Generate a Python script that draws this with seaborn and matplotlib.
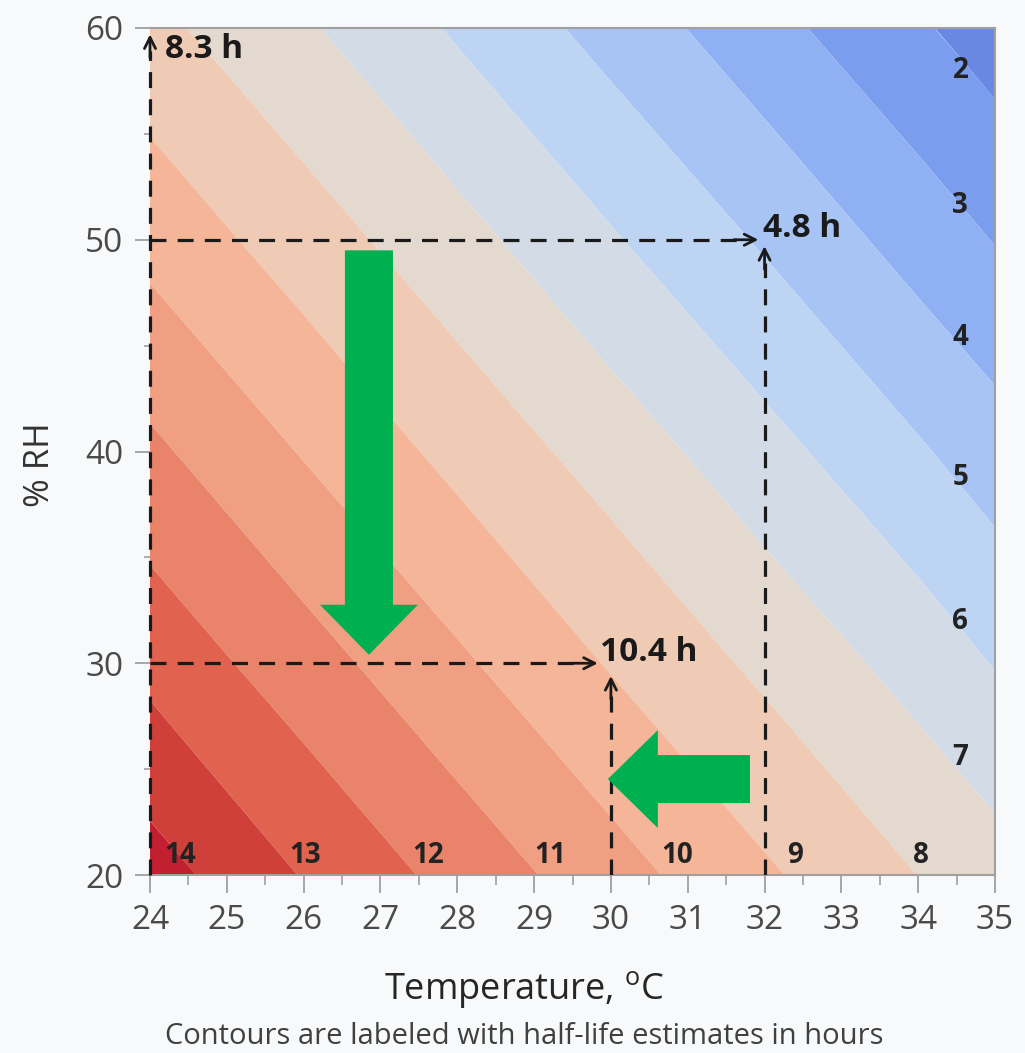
import numpy as np
import matplotlib
matplotlib.use('Agg')
import matplotlib.pyplot as plt
from matplotlib.colors import ListedColormap, BoundaryNorm
import seaborn as sns

sns.set_theme(style="white")
plt.rcParams['font.family'] = ['Open Sans', 'DejaVu Sans']

# Half-life estimates (hours) on a coarse grid
temps = [24, 26, 28, 30, 32, 34, 35]
rh_levels = [20, 30, 40, 50, 60]
half_life = [
    [14.45, 12.94, 11.66, 10.41, 9.15, 7.99, 7.43],   # RH 20
    [12.69, 11.43, 10.17, 8.92, 7.78, 6.60, 5.95],    # RH 30
    [11.20, 9.93, 8.70, 7.57, 6.35, 5.12, 4.47],      # RH 40
    [9.69, 8.49, 7.35, 6.10, 4.88, 3.58, 2.96],       # RH 50
    [8.27, 7.14, 5.87, 4.63, 3.34, 2.13, 1.52],       # RH 60
]
contour_levels = list(range(1, 16))
band_colors = ['#6888e4', '#7a9ded', '#90b0f4', '#a8c4f5', '#bdd4f2', '#d3dbe7',
               '#e4d9ce', '#efcab5', '#f4b598', '#f09f82', '#e9836a', '#e0624f',
               '#d0403a', '#c21f30']

# contour labels
bottom_labels = ['14', '13', '12', '11', '10', '9', '8']
bottom_label_t = [24.39, 26.02, 27.62, 29.21, 30.86, 32.40, 34.03]
right_labels = ['2', '3', '4', '5', '6', '7']
right_label_rh = [58.0, 51.6, 45.4, 38.75, 31.95, 25.55]

# worked examples: (temperature, RH, half-life text)
examples = [(24, 60, '8.3 h'), (32, 50, '4.8 h'), (30, 30, '10.4 h')]

fig = plt.figure(figsize=(10.25, 10.53), dpi=100)
fig.patch.set_facecolor('#f8f9fa')
ax = fig.add_axes([150 / 1025, 1 - 875 / 1053, 845 / 1025, 847 / 1053])

cmap = ListedColormap(band_colors)
norm = BoundaryNorm(contour_levels, cmap.N)
T, R = np.meshgrid(temps, rh_levels)
ax.contourf(T, R, np.array(half_life), levels=contour_levels, cmap=cmap, norm=norm,
            antialiased=True)

ax.set_xlim(24, 35)
ax.set_ylim(20, 60)
ax.set_xticks(range(24, 36))
ax.set_xticks(np.arange(24.5, 35, 1), minor=True)
ax.set_yticks(range(20, 61, 10))
ax.set_yticks(range(25, 60, 10), minor=True)

grey = '#a0a0a0'
for side in ['top', 'right', 'bottom']:
    ax.spines[side].set_color(grey)
    ax.spines[side].set_linewidth(1.5)
ax.spines['left'].set_visible(False)
ax.tick_params(axis='x', which='major', length=13, width=1.3, color=grey, direction='out',
               pad=8, labelsize=24, labelcolor='#4a4a4a', bottom=True)
ax.tick_params(axis='x', which='minor', length=7, width=1.2, color=grey, direction='out', bottom=True)
ax.tick_params(axis='y', which='major', length=11, width=1.3, color=grey, direction='out',
               pad=8, labelsize=24, labelcolor='#4a4a4a', left=True)
ax.tick_params(axis='y', which='minor', length=4, width=1.2, color=grey, direction='out', left=True)

# contour labels
lab_kw = dict(fontsize=20, fontweight='bold', color='#222222', ha='center', va='center')
for txt, t in zip(bottom_labels, bottom_label_t):
    ax.text(t, 20.9, txt, **lab_kw)
for txt, r in zip(right_labels, right_label_rh):
    ax.text(34.55, r, txt, **lab_kw)

# dashed reading guides
dash_kw = dict(color='#1a1a1a', lw=2.3, ls=(0, (5, 3.5)), zorder=4)
head_kw = dict(arrowstyle='->', color='#1a1a1a', lw=2.0, mutation_scale=20,
               shrinkA=0, shrinkB=0)
ex_kw = dict(fontsize=24, fontweight='bold', color='#1a1a1a', va='center', ha='left', zorder=5)

# 8.3 h : vertical guide at 24 C
ax.plot([24, 24], [20, 58.9], clip_on=False, **dash_kw)
ax.annotate('', xy=(24, 59.7), xytext=(24, 58.6), arrowprops=head_kw, annotation_clip=False)
ax.text(24.2, 59.0, examples[0][2], **ex_kw)

# 4.8 h : 50 %RH and 32 C
ax.plot([24, 31.7], [50, 50], **dash_kw)
ax.annotate('', xy=(31.92, 50), xytext=(31.6, 50), arrowprops=head_kw)
ax.plot([32, 32], [20, 48.9], **dash_kw)
ax.annotate('', xy=(32, 49.7), xytext=(32, 48.6), arrowprops=head_kw)
ax.text(31.98, 50.55, examples[1][2], **ex_kw)

# 10.4 h : 30 %RH and 30 C
ax.plot([24, 29.6], [30, 30], **dash_kw)
ax.annotate('', xy=(29.83, 30), xytext=(29.5, 30), arrowprops=head_kw)
ax.plot([30, 30], [20, 28.6], **dash_kw)
ax.annotate('', xy=(30, 29.4), xytext=(30, 28.3), arrowprops=head_kw)
ax.text(29.86, 30.5, examples[2][2], **ex_kw)

# green block arrows
green = '#00b050'
ms = 10
block = f"simple,head_length={36 / ms},head_width={70.5 / ms},tail_width={34.6 / ms}"
ax.annotate('', xy=(26.85, 30.4), xytext=(26.85, 49.5),
            arrowprops=dict(arrowstyle=block, mutation_scale=ms, fc=green, ec='none',
                            shrinkA=0, shrinkB=0), zorder=6)
ax.annotate('', xy=(29.96, 24.53), xytext=(31.81, 24.53),
            arrowprops=dict(arrowstyle=block, mutation_scale=ms, fc=green, ec='none',
                            shrinkA=0, shrinkB=0), zorder=6)

fig.text(40 / 1025, 1 - 465 / 1053, '% RH', rotation=90, fontsize=25, color='#333333',
         ha='center', va='center')
fig.text(524 / 1025, 1 - 990 / 1053, 'Temperature, $\\mathregular{^o}$C', fontsize=26,
         color='#262626', ha='center', va='center')
fig.text(524 / 1025, 1 - 1037 / 1053, 'Contours are labeled with half-life estimates in hours',
         fontsize=21, color='#404040', ha='center', va='center')

fig.savefig('out.png', dpi=100, facecolor=fig.get_facecolor())
